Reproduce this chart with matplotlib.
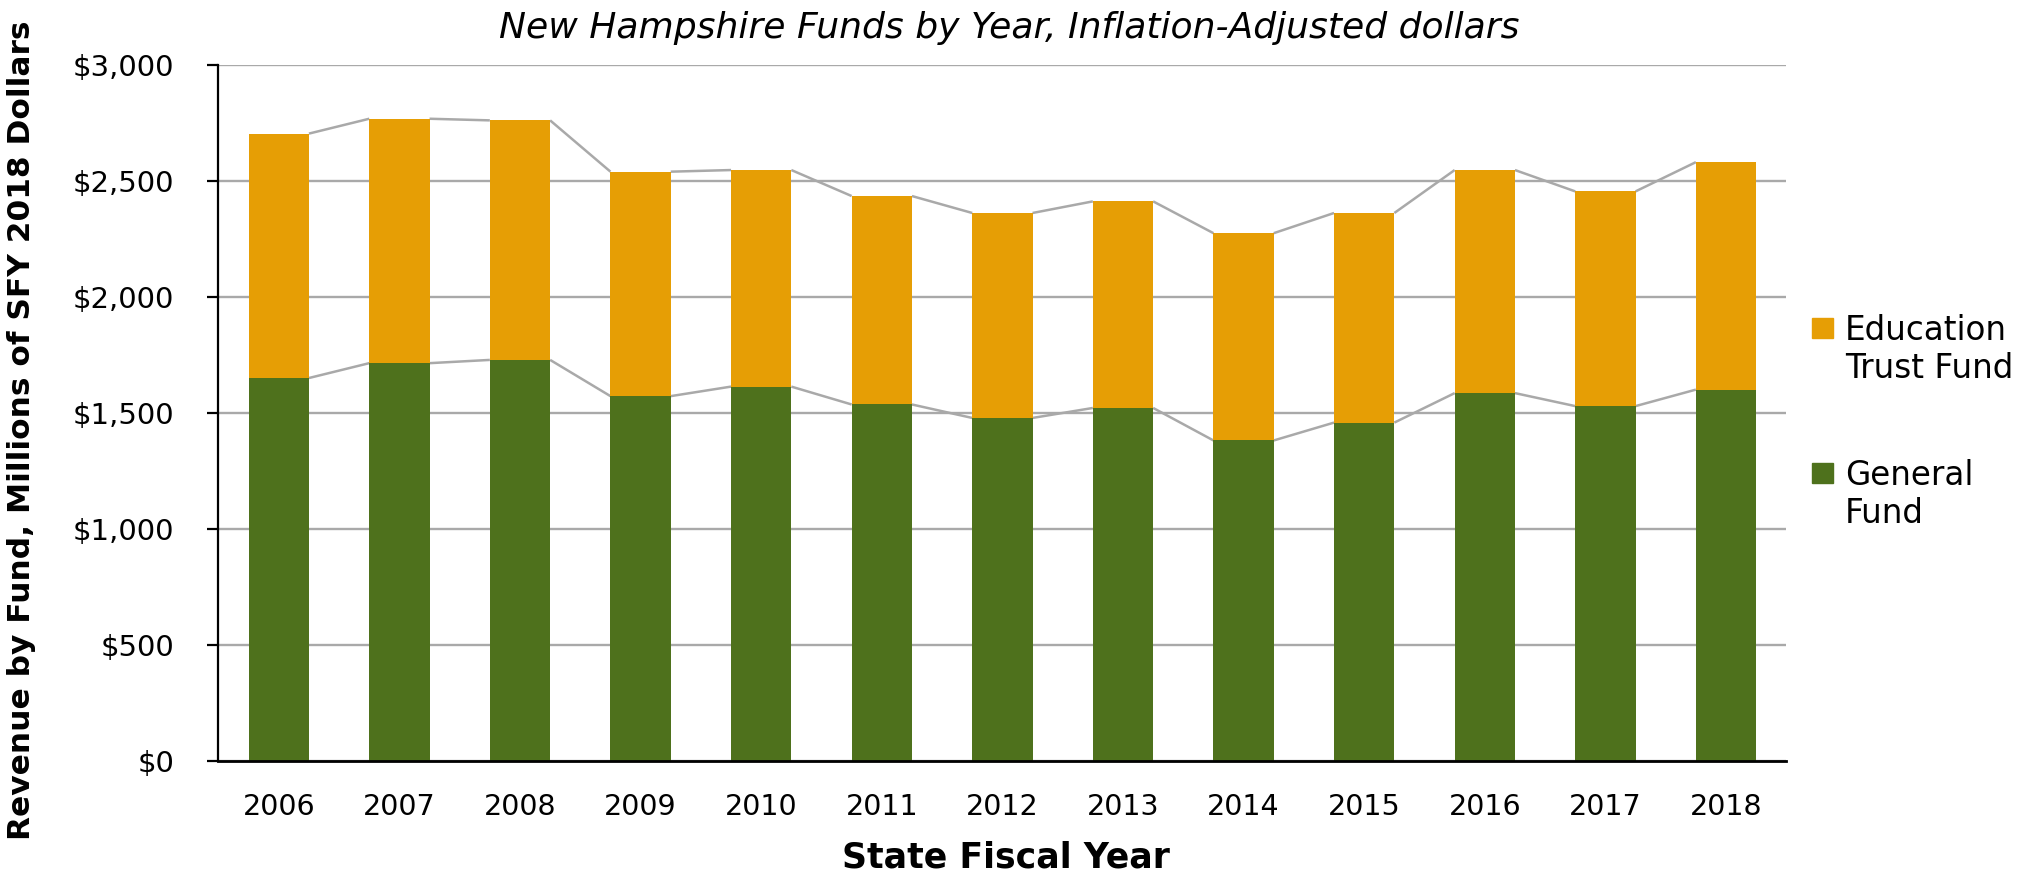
import numpy as np
import matplotlib
matplotlib.use("Agg")
import matplotlib.pyplot as plt
from matplotlib.patches import Rectangle
from matplotlib.ticker import FuncFormatter

# Data (millions of SFY 2018 dollars)
years = ["2006", "2007", "2008", "2009", "2010", "2011", "2012",
         "2013", "2014", "2015", "2016", "2017", "2018"]
general_fund = [1650, 1714, 1728, 1572, 1613, 1536, 1478,
                1521, 1381, 1458, 1585, 1529, 1600]
total_funds = [2703, 2767, 2760, 2539, 2546, 2434, 2361,
               2411, 2274, 2361, 2546, 2454, 2580]
education_fund = [t - g for t, g in zip(total_funds, general_fund)]

series_names = ["Education\nTrust Fund", "General\nFund"]
orange = "#E69E05"
green = "#4E711C"
grid_grey = "#A9A9A9"

plt.rcParams['font.family'] = ['DejaVu Sans']

fig = plt.figure(figsize=(20.23, 8.81), dpi=100)
ax = fig.add_axes([0.108, 0.1362, 0.775, 0.7904])

x = np.arange(len(years))
w = 0.5
ax.bar(x, general_fund, width=w, color=green, zorder=3)
ax.bar(x, education_fund, width=w, bottom=general_fund, color=orange, zorder=3)

# Excel style series lines between the bar tops
for i in range(len(years) - 1):
    ax.plot([x[i] + w / 2, x[i + 1] - w / 2], [general_fund[i], general_fund[i + 1]],
            color=grid_grey, lw=1.8, zorder=2, solid_capstyle='butt')
    ax.plot([x[i] + w / 2, x[i + 1] - w / 2], [total_funds[i], total_funds[i + 1]],
            color=grid_grey, lw=1.8, zorder=2, solid_capstyle='butt')

ax.set_xlim(-0.5, len(years) - 0.5)
ax.set_ylim(0, 3000)
ax.set_yticks(np.arange(0, 3001, 500))
ax.yaxis.set_major_formatter(FuncFormatter(lambda v, p: "${:,.0f}".format(v)))
ax.set_xticks(x)
ax.set_xticklabels(years)

ax.grid(axis='y', color=grid_grey, lw=1.7, zorder=0)
ax.set_axisbelow(True)
for s in ["top", "right"]:
    ax.spines[s].set_visible(False)
ax.spines["left"].set_linewidth(1.6)
ax.spines["bottom"].set_linewidth(2.0)
ax.spines["left"].set_zorder(4)
ax.spines["bottom"].set_zorder(4)

ax.tick_params(axis='y', length=8, width=1.6, pad=24, labelsize=21)
ax.tick_params(axis='x', length=0, pad=23, labelsize=20.5)

ax.set_ylabel("Revenue by Fund, Millions of SFY 2018 Dollars", fontsize=22.5, fontweight='bold')
ax.yaxis.label.set_va('center')
ax.yaxis.set_label_coords(-0.1254, 0.4756)
ax.set_xlabel("State Fiscal Year", fontsize=25, fontweight='bold')
ax.xaxis.label.set_va('center')
ax.xaxis.set_label_coords(0.502, -0.139)

fig.text(1009 / 2023, 1 - 28 / 881, "New Hampshire Funds by Year, Inflation-Adjusted dollars",
         fontsize=26, style='italic', ha='center', va='center')

# Legend (square aligned with the first line of each label)
legend_y = [1 - 328 / 881, 1 - 473 / 881]
for name, col, ly in zip(series_names, [orange, green], legend_y):
    fig.patches.append(Rectangle((1812 / 2023, ly - 10 / 881), 21 / 2023, 20 / 881,
                                 transform=fig.transFigure, color=col, figure=fig))
    fig.text(1845 / 2023, ly + 14 / 881, name, fontsize=23.5, ha='left', va='top',
             linespacing=1.2)

fig.savefig("out.png", dpi=100)
